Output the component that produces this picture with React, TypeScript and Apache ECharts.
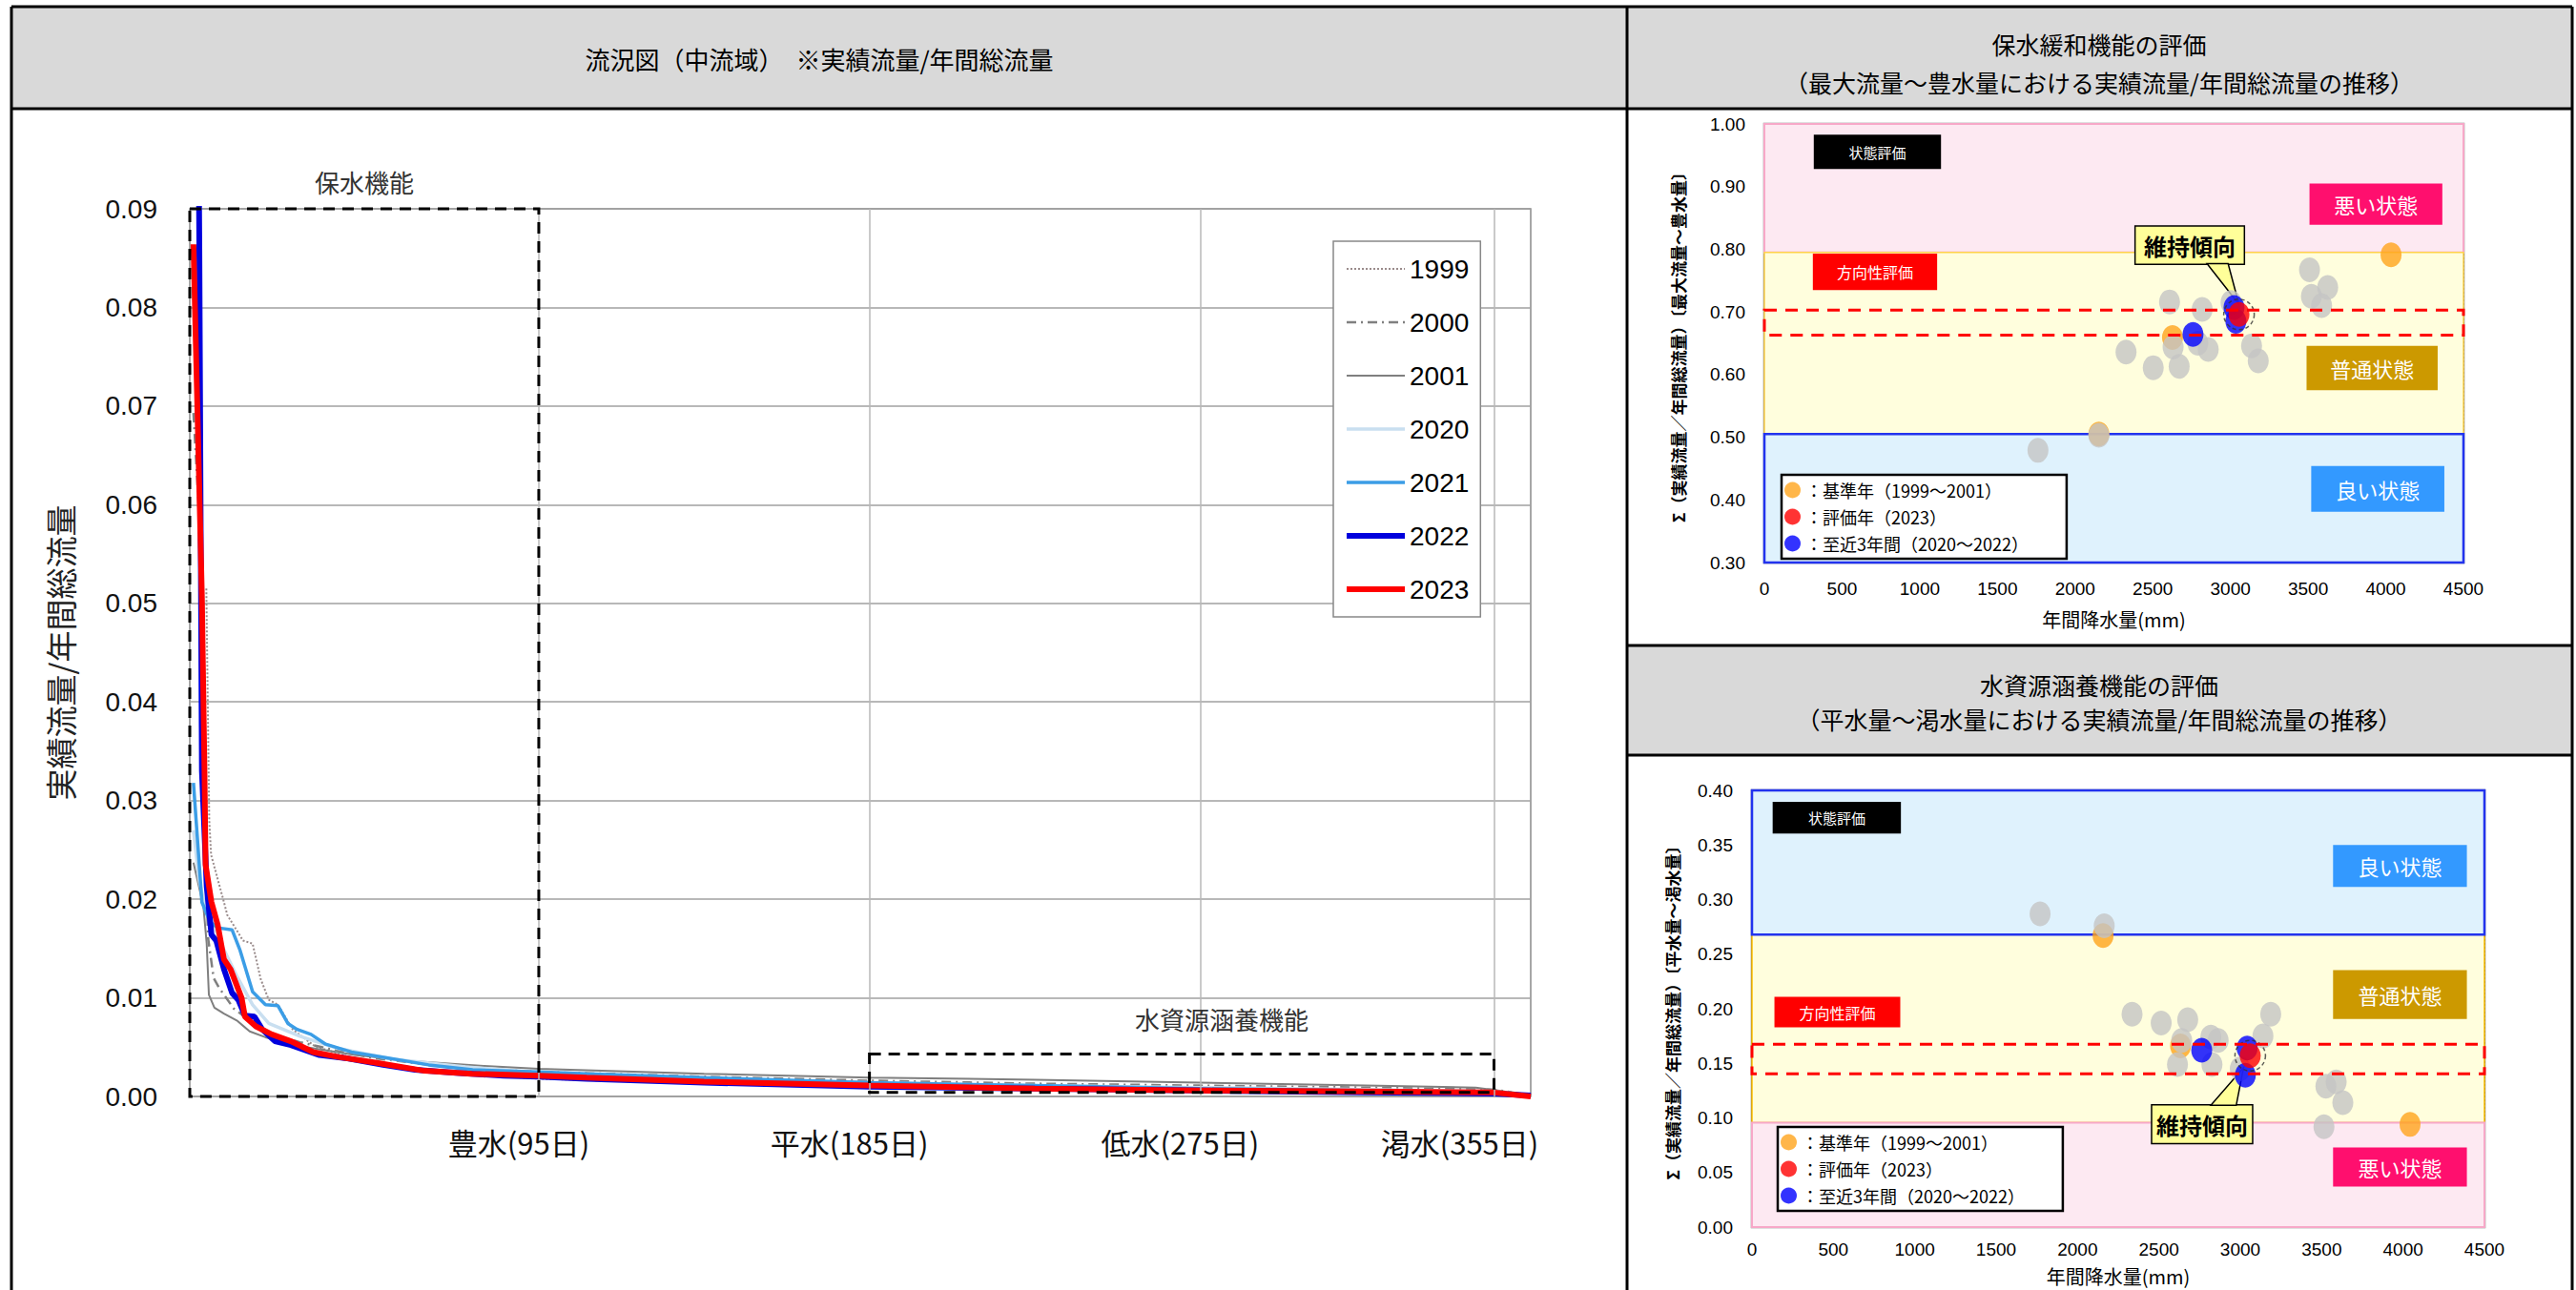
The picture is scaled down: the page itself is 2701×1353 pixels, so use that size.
import React, { useEffect, useRef } from "react";
import * as echarts from "echarts";

// ---------------- Data: flow duration curves (day, actual flow / annual total flow) ----------------
const YEARS = ["1999", "2000", "2001", "2020", "2021", "2022", "2023"];

const FLOW_1999 = [
  [4.5, 0.0515], [5.3, 0.028], [5.8, 0.0245], [9.3, 0.0197], [10.2, 0.0184], [14.5, 0.0158], [17.1, 0.0155],
  [19.3, 0.0119], [21.5, 0.0098], [24, 0.0093], [28, 0.0068], [34, 0.0051], [45, 0.0038], [60, 0.0029],
  [78, 0.0022], [95, 0.0018], [140, 0.0013], [185, 0.001], [230, 0.0008], [275, 0.0006], [320, 0.0005],
  [355, 0.0004], [365, 0.0001],
];
const FLOW_2000 = [
  [1, 0.0693], [2.4, 0.06], [3.5, 0.04], [4.2, 0.025], [5, 0.016], [6.5, 0.012], [8, 0.011], [12, 0.0089],
  [16.3, 0.0077], [21.5, 0.0064], [30, 0.0055], [36, 0.005], [50, 0.0039], [70, 0.003], [95, 0.0025],
  [140, 0.002], [185, 0.0016], [230, 0.0013], [275, 0.0011], [320, 0.0009], [355, 0.0007], [365, 0.0001],
];
const FLOW_2001 = [
  [1, 0.0237], [3.7, 0.0193], [4.6, 0.0155], [5.2, 0.0103], [6.7, 0.009], [9.3, 0.0084], [12.8, 0.0077],
  [16.3, 0.0066], [20.6, 0.006], [30, 0.0051], [45, 0.0042], [60, 0.0036], [80, 0.0031], [95, 0.0028],
  [140, 0.0023], [185, 0.0019], [230, 0.0017], [275, 0.0014], [320, 0.0011], [350, 0.0009], [356, 0.0006],
  [365, 0.0001],
];
const FLOW_2020 = [
  [1, 0.027], [2.5, 0.022], [4, 0.0195], [6, 0.018], [8.5, 0.0155], [12.8, 0.0122], [17.1, 0.0093],
  [21.5, 0.0074], [30, 0.0061], [40, 0.0049], [55, 0.0038], [75, 0.003], [95, 0.0024], [140, 0.0018],
  [185, 0.0014], [230, 0.0011], [275, 0.0009], [320, 0.0007], [355, 0.0005], [365, 0.0001],
];
const FLOW_2021 = [
  [1, 0.0318], [3.3, 0.0197], [5.5, 0.0177], [7.6, 0.0171], [11.5, 0.0169], [13.7, 0.0148], [17.1, 0.0106],
  [20.6, 0.0093], [24, 0.0092], [26.7, 0.0074], [29.2, 0.0068], [33, 0.0063], [37, 0.0053], [44, 0.0045],
  [54, 0.0039], [65, 0.0032], [77, 0.0027], [95, 0.0025], [108, 0.0023], [140, 0.0019], [185, 0.0014],
  [230, 0.0011], [275, 0.0008], [320, 0.0006], [355, 0.0004], [365, 0.0001],
];
const FLOW_2022 = [
  [1, 0.18], [2, 0.12], [2.6, 0.086], [2.9, 0.0625], [3.3, 0.033], [4.6, 0.0213], [5.9, 0.0164],
  [7.2, 0.0158], [9.3, 0.0129], [11.5, 0.0105], [13.2, 0.0098], [15, 0.0082], [17.6, 0.0081],
  [19.7, 0.0068], [23.2, 0.0056], [27.5, 0.0052], [35.3, 0.0042], [42.2, 0.0039], [52.6, 0.0032],
  [61.3, 0.0027], [72.5, 0.0024], [85.5, 0.0021], [95, 0.002], [108, 0.0018], [140, 0.0014],
  [185, 0.001], [230, 0.0008], [275, 0.0006], [320, 0.0004], [355, 0.0003], [365, 0.0001],
];
const FLOW_2023 = [
  [1, 0.0864], [3.3, 0.0506], [4, 0.0329], [4.3, 0.0235], [5.9, 0.0197], [7.6, 0.0174], [9.3, 0.0139],
  [11.1, 0.0129], [14.1, 0.01], [15, 0.0081], [18, 0.0071], [22.3, 0.0063], [27.5, 0.0056], [33.6, 0.0045],
  [40.5, 0.004], [50.9, 0.0034], [63.9, 0.0026], [76.8, 0.0023], [95, 0.0021], [108, 0.0019], [140, 0.0015],
  [185, 0.0011], [230, 0.0008], [275, 0.0006], [320, 0.0005], [355, 0.0004], [365, 0.0],
];
const FLOWS = [FLOW_1999, FLOW_2000, FLOW_2001, FLOW_2020, FLOW_2021, FLOW_2022, FLOW_2023];

const X_TICK_DAYS = [95, 185, 275, 355];
const X_TICK_LABELS = ["豊水(95日)", "平水(185日)", "低水(275日)", "渇水(355日)"];

// ---------------- Data: evaluation scatter (annual rainfall mm, Σ ratio) ----------------
const LEGEND_NAMES = ["：基準年（1999～2001）", "：評価年（2023）", "：至近3年間（2020～2022）"];

const HIGH_GRAY = [
  [3509, 0.767], [3626, 0.739], [3521, 0.725], [3587, 0.71], [2608, 0.716], [2818, 0.704], [3004, 0.715],
  [2631, 0.644], [2857, 0.64], [2790, 0.65], [2328, 0.636], [2503, 0.611], [2670, 0.613], [3136, 0.646],
  [3179, 0.622], [1761, 0.479], [2153, 0.503],
];
const HIGH_BASE = [[4034, 0.791], [2627, 0.659], [2153, 0.505]];
const HIGH_EVAL = [[3055, 0.696]];
const HIGH_RECENT = [[3023, 0.707], [2759, 0.664], [3035, 0.685]];

const LOW_GRAY = [
  [1770, 0.287], [2164, 0.276], [2335, 0.195], [2514, 0.187], [2677, 0.19], [2640, 0.171], [2819, 0.174],
  [2864, 0.171], [2614, 0.149], [2826, 0.149], [3139, 0.175], [3187, 0.195], [3526, 0.129], [3589, 0.133],
  [3630, 0.114], [3514, 0.092], [3000, 0.145],
];
const LOW_BASE = [[2157, 0.267], [4043, 0.094], [2633, 0.166]];
const LOW_EVAL = [[3061, 0.157]];
const LOW_RECENT = [[2763, 0.162], [3042, 0.164], [3031, 0.139]];

// ---------------- Styles ----------------
const JP = "'Noto Sans CJK JP', sans-serif";
const NUM = "'Liberation Sans', Arial, sans-serif";
const NARROW = "'Liberation Sans Narrow', 'Liberation Sans', sans-serif";

const YEAR_LINE_STYLES: any[] = [
  { color: "#9a8c8c", width: 2, type: "dotted" },
  { color: "#808080", width: 2.5, type: [10, 5, 2, 5] },
  { color: "#7f7f7f", width: 2, type: "solid" },
  { color: "#c9dff0", width: 3.5, type: "solid" },
  { color: "#3b9de6", width: 3.5, type: "solid" },
  { color: "#0000dd", width: 6, type: "solid" },
  { color: "#ff0000", width: 6, type: "solid" },
];

const TRANSPARENT = "rgba(0,0,0,0)";

function boxArea(name: string, a: number[], b: number[], fill: string, fontSize: number, textColor = "#fff", extra: any = {}) {
  return [
    {
      name,
      coord: a,
      itemStyle: { color: fill, borderWidth: 0, opacity: 1, ...(extra.itemStyle || {}) },
      label: {
        show: true,
        position: "inside",
        color: textColor,
        fontSize,
        fontFamily: JP,
        fontWeight: extra.fontWeight || "normal",
      },
    },
    { coord: b },
  ];
}

function band(a: number[], b: number[], fill: string, border: string, bw: number) {
  return [
    { name: "", coord: a, itemStyle: { color: fill, borderColor: border, borderWidth: bw, opacity: 1 }, label: { show: false } },
    { coord: b },
  ];
}

// dashed rectangular frame drawn through the axes' own scales
function frameSeries(g: number, frames: any[], color: string, width: number, dash: number[], z: number, name: string) {
  return {
    type: "custom",
    name,
    xAxisIndex: g,
    yAxisIndex: g,
    z,
    silent: true,
    clip: false,
    data: frames.map((f) => [f.a[0], f.a[1], f.b[0], f.b[1]]),
    renderItem: (params: any, api: any) => {
      const f = frames[params.dataIndex];
      const p1 = api.coord([api.value(0), api.value(1)]);
      const p2 = api.coord([api.value(2), api.value(3)]);
      const x = Math.min(p1[0], p2[0]);
      const y = Math.min(p1[1], p2[1]);
      const w = Math.abs(p2[0] - p1[0]);
      const h = Math.abs(p2[1] - p1[1]);
      const children: any[] = [
        {
          type: "rect",
          shape: { x, y, width: w, height: h },
          style: { fill: "none", stroke: color, lineWidth: width, lineDash: dash },
        },
      ];
      if (f.label) {
        children.push({
          type: "text",
          x: x + w / 2 + (f.dx || 0),
          y: y - (f.gap || 0),
          style: {
            text: f.label,
            fill: "#333",
            font: `26px ${JP}`,
            textAlign: "center",
            textVerticalAlign: "bottom",
          },
        });
      }
      return { type: "group", children };
    },
  };
}

function evalPanelSeries(g: number, cfg: any) {
  const ax = { xAxisIndex: g, yAxisIndex: g };
  const dot = [22, 26];
  return [
    {
      type: "line",
      name: "_bands" + g,
      ...ax,
      data: [],
      z: -1,
      silent: true,
      markArea: { silent: true, data: cfg.bands },
    },
    {
      type: "line",
      name: "_labels" + g,
      ...ax,
      data: [],
      z: 3,
      silent: true,
      markArea: { silent: true, data: cfg.labels },
    },
    {
      type: "custom",
      name: "_pointer" + g,
      ...ax,
      z: 4,
      silent: true,
      data: [cfg.pointer],
      renderItem: (params: any, api: any) => {
        const p1 = api.coord([api.value(0), api.value(1)]);
        const p2 = api.coord([api.value(2), api.value(3)]);
        const p3 = api.coord([api.value(4), api.value(5)]);
        return {
          type: "polygon",
          shape: { points: [p1, p2, p3] },
          style: { fill: "#FFFF99", stroke: "#000", lineWidth: 1.5 },
        };
      },
    },
    {
      type: "line",
      name: "_callout" + g,
      ...ax,
      data: [],
      z: 5,
      silent: true,
      markArea: {
        silent: true,
        data: [boxArea("維持傾向", cfg.callout[0], cfg.callout[1], "#FFFF99", 24, "#000", {
          fontWeight: "bold",
          itemStyle: { borderColor: "#000", borderWidth: 1.5 },
        })],
      },
    },
    {
      type: "scatter",
      name: LEGEND_NAMES[0],
      ...ax,
      data: cfg.base,
      symbol: "circle",
      symbolSize: dot,
      itemStyle: { color: "#FFA41B" },
      z: 6,
    },
    {
      type: "scatter",
      name: "過去年",
      ...ax,
      data: cfg.gray,
      symbol: "circle",
      symbolSize: dot,
      itemStyle: { color: "#C4C4C4" },
      z: 6,
    },
    {
      type: "scatter",
      name: LEGEND_NAMES[2],
      ...ax,
      data: cfg.recent,
      symbol: "circle",
      symbolSize: dot,
      itemStyle: { color: "#0000FF" },
      z: 6,
    },
    {
      type: "scatter",
      name: LEGEND_NAMES[1],
      ...ax,
      data: cfg.evalYear,
      symbol: "circle",
      symbolSize: dot,
      itemStyle: { color: "#FF0000" },
      z: 6,
    },
    {
      type: "scatter",
      name: "_ring" + g,
      ...ax,
      data: cfg.evalYear,
      symbol: "circle",
      symbolSize: 32,
      silent: true,
      itemStyle: { color: TRANSPARENT, borderColor: "#333", borderWidth: 1.5, borderType: [4, 3] },
      z: 7,
    },
    frameSeries(g, [{ a: cfg.trend[0], b: cfg.trend[1] }], "#FF0000", 3, [13, 9], 8, "_trend" + g),
  ];
}

function buildOption() {
  const leftSeries: any[] = YEARS.map((y, i) => ({
    type: "line",
    name: y,
    xAxisIndex: 0,
    yAxisIndex: 0,
    data: FLOWS[i],
    symbol: "none",
    lineStyle: YEAR_LINE_STYLES[i],
    itemStyle: { color: YEAR_LINE_STYLES[i].color },
    z: 2,
  }));

  const vgrid = {
    type: "line",
    name: "_vgrid",
    xAxisIndex: 0,
    yAxisIndex: 0,
    data: [],
    z: 1,
    silent: true,
    markLine: {
      silent: true,
      symbol: ["none", "none"],
      label: { show: false },
      lineStyle: { color: "#b8b8b8", width: 1.5, type: "solid" },
      data: X_TICK_DAYS.map((d) => ({ xAxis: d })),
    },
  };

  const frames = frameSeries(
    0,
    [
      { a: [0, 0.09], b: [95, 0], label: "保水機能", gap: 16 },
      { a: [185, 0.0043], b: [355, 0.0004], label: "水資源涵養機能", gap: 24, dx: 42 },
    ],
    "#000",
    3,
    [12, 8],
    10,
    "_frames"
  );

  const highCfg = {
    bands: [
      band([0, 1.0], [4500, 0.795], "#FDE9F2", "#F7A8C8", 2),
      band([0, 0.795], [4500, 0.505], "#FFFEDD", "#FFD24D", 1.5),
      band([0, 0.505], [4500, 0.3], "#DFF2FD", "#2233EE", 2.5),
    ],
    labels: [
      boxArea("状態評価", [318, 0.983], [1137, 0.928], "#000000", 15),
      boxArea("方向性評価", [312, 0.793], [1112, 0.735], "#FF0000", 16),
      boxArea("悪い状態", [3509, 0.905], [4364, 0.839], "#FF0F6E", 22),
      boxArea("普通状態", [3490, 0.646], [4334, 0.575], "#CC9900", 22),
      boxArea("良い状態", [3520, 0.454], [4377, 0.381], "#3399FF", 22),
    ],
    pointer: [2849, 0.777, 2985, 0.777, 3055, 0.712],
    callout: [[2386, 0.837], [3090, 0.776]],
    trend: [[0, 0.703], [4500, 0.663]],
    gray: HIGH_GRAY,
    base: HIGH_BASE,
    evalYear: HIGH_EVAL,
    recent: HIGH_RECENT,
  };

  const lowCfg = {
    bands: [
      band([0, 0.268], [4500, 0.0957], "#FFFEDD", "#FFC000", 1.5),
      band([0, 0.0957], [4500, 0.0], "#FDE9F2", "#F7A8C8", 2),
      band([0, 0.4], [4500, 0.268], "#DFF2FD", "#2233EE", 2.5),
    ],
    labels: [
      boxArea("状態評価", [127, 0.3895], [915, 0.3605], "#000000", 15),
      boxArea("方向性評価", [138, 0.2109], [911, 0.1829], "#FF0000", 16),
      boxArea("良い状態", [3570, 0.35], [4392, 0.3116], "#3399FF", 22),
      boxArea("普通状態", [3570, 0.2353], [4392, 0.1907], "#CC9900", 22),
      boxArea("悪い状態", [3570, 0.0729], [4392, 0.0372], "#FF0F6E", 22),
    ],
    pointer: [2819, 0.1115, 2975, 0.1115, 3020, 0.146],
    callout: [[2455, 0.112], [3076, 0.0764]],
    trend: [[0, 0.1674], [4500, 0.1403]],
    gray: LOW_GRAY,
    base: LOW_BASE,
    evalYear: LOW_EVAL,
    recent: LOW_RECENT,
  };

  const rightX = (g: number, gap: number, margin: number) => ({
    gridIndex: g,
    type: "value",
    min: 0,
    max: 4500,
    interval: 500,
    name: "年間降水量(mm)",
    nameLocation: "middle",
    nameGap: gap,
    nameTextStyle: { fontFamily: JP, fontSize: 20, color: "#000" },
    axisLine: { show: true, lineStyle: { color: "#555", width: 1.5 } },
    axisTick: { show: false },
    axisLabel: { fontFamily: NARROW, fontSize: 19, color: "#000", margin, formatter: (v: number) => String(v) },
    splitLine: { show: true, lineStyle: { color: "#444", width: 1, type: [2, 2] } },
  });
  const rightY = (g: number, min: number, max: number, interval: number, name: string, gap: number) => ({
    gridIndex: g,
    type: "value",
    min,
    max,
    interval,
    name,
    nameLocation: "middle",
    nameGap: gap,
    nameTextStyle: { fontFamily: JP, fontSize: 17, fontWeight: "bold", color: "#000" },
    axisLine: { show: true, lineStyle: { color: "#555", width: 1.5 } },
    axisTick: { show: false },
    axisLabel: {
      fontFamily: NARROW,
      fontSize: 19,
      color: "#000",
      margin: 20,
      formatter: (v: number) => v.toFixed(2),
    },
    splitLine: { show: true, lineStyle: { color: "#444", width: 1, type: [2, 2] } },
  });

  const rightLegend = (left: number, top: number) => ({
    data: LEGEND_NAMES,
    orient: "vertical",
    left,
    top,
    selectedMode: false,
    icon: "circle",
    itemWidth: 17,
    itemHeight: 19,
    itemGap: 10,
    padding: [7, 40, 7, 3],
    backgroundColor: "#fff",
    borderColor: "#000",
    borderWidth: 2.5,
    textStyle: { fontFamily: JP, fontSize: 18, lineHeight: 18, color: "#000" },
  });

  const line = (x1: number, y1: number, x2: number, y2: number, w = 3) => ({
    type: "line",
    shape: { x1, y1, x2, y2 },
    style: { stroke: "#000", lineWidth: w },
    z: 100,
  });
  const headerText = (x: number, y: number, text: string, size: number) => ({
    type: "text",
    x,
    y,
    style: {
      text,
      fill: "#000",
      font: `${size}px ${JP}`,
      textAlign: "center",
      textVerticalAlign: "middle",
    },
    z: 101,
  });

  const graphic = [
    { type: "rect", shape: { x: 12, y: 7, width: 1694, height: 107 }, style: { fill: "#D9D9D9" }, z: 99 },
    { type: "rect", shape: { x: 1706, y: 7, width: 991, height: 107 }, style: { fill: "#D9D9D9" }, z: 99 },
    { type: "rect", shape: { x: 1706, y: 677, width: 991, height: 115 }, style: { fill: "#D9D9D9" }, z: 99 },
    line(12, 7, 2697, 7),
    line(12, 114, 2697, 114),
    line(12, 7, 12, 1353),
    line(1706, 7, 1706, 1353),
    line(2697, 7, 2697, 1353),
    line(1706, 677, 2697, 677),
    line(1706, 792, 2697, 792),
    headerText(859, 61, "流況図（中流域）　※実績流量/年間総流量", 26),
    headerText(2201, 46, "保水緩和機能の評価", 25),
    headerText(2201, 86, "（最大流量～豊水量における実績流量/年間総流量の推移）", 25),
    headerText(2201, 718, "水資源涵養機能の評価", 25),
    headerText(2201, 754, "（平水量～渇水量における実績流量/年間総流量の推移）", 25),
  ];

  return {
    animation: false,
    backgroundColor: "#fff",
    graphic,
    legend: [
      {
        data: YEARS,
        orient: "vertical",
        left: 1398,
        top: 253,
        selectedMode: false,
        itemWidth: 61,
        itemHeight: 14,
        itemGap: 26,
        itemStyle: { opacity: 0 },
        lineStyle: { width: "inherit", type: "inherit", color: "inherit" },
        padding: [14, 12, 14, 11],
        backgroundColor: "#fff",
        borderColor: "#888",
        borderWidth: 1.5,
        textStyle: { fontFamily: NUM, fontSize: 28, lineHeight: 30, color: "#000" },
      },
      rightLegend(1868, 498),
      rightLegend(1864, 1182),
    ],
    grid: [
      { left: 199, top: 219, width: 1406, height: 931, show: true, borderColor: "#8a8a8a", borderWidth: 1.5, backgroundColor: TRANSPARENT },
      { left: 1850, top: 130, width: 733, height: 460, show: true, borderColor: "#7f7f7f", borderWidth: 2.5, backgroundColor: TRANSPARENT },
      { left: 1837, top: 829, width: 768, height: 458, show: true, borderColor: "#7f7f7f", borderWidth: 2.5, backgroundColor: TRANSPARENT },
    ],
    xAxis: [
      {
        gridIndex: 0,
        type: "value",
        min: 0,
        max: 365,
        axisLine: { show: false },
        axisTick: { show: false },
        splitLine: { show: false },
        axisLabel: {
          customValues: X_TICK_DAYS,
          margin: 32,
          formatter: (v: number) => {
            const i = X_TICK_DAYS.indexOf(Math.round(v));
            if (i < 0) return "";
            return i === X_TICK_DAYS.length - 1 ? `{t|${X_TICK_LABELS[i]}}` : `{s|${X_TICK_LABELS[i]}}`;
          },
          rich: {
            s: { fontFamily: JP, fontSize: 31, color: "#111", padding: [0, 42, 0, 0] },
            t: { fontFamily: JP, fontSize: 31, color: "#111", padding: [0, 72, 0, 0] },
          },
        },
      },
      rightX(1, 49, 18),
      rightX(2, 41, 14),
    ],
    yAxis: [
      {
        gridIndex: 0,
        type: "value",
        min: 0,
        max: 0.09,
        interval: 0.01,
        name: "実績流量/年間総流量",
        nameLocation: "middle",
        nameGap: 120,
        nameTextStyle: { fontFamily: JP, fontSize: 33, color: "#222" },
        axisLine: { show: false },
        axisTick: { show: false },
        axisLabel: {
          fontFamily: NUM,
          fontSize: 28,
          color: "#111",
          margin: 34,
          formatter: (v: number) => v.toFixed(2),
        },
        splitLine: { show: true, lineStyle: { color: "#a0a0a0", width: 1.5 } },
      },
      rightY(1, 0.3, 1.0, 0.1, "Σ（実績流量／年間総流量）〔最大流量～豊水量〕", 82),
      rightY(2, 0, 0.4, 0.05, "Σ（実績流量／年間総流量）〔平水量～渇水量〕", 75),
    ],
    series: [
      vgrid,
      ...leftSeries,
      frames,
      ...evalPanelSeries(1, highCfg),
      ...evalPanelSeries(2, lowCfg),
    ],
  };
}

export default function App() {
  const ref = useRef<HTMLDivElement>(null);
  useEffect(() => {
    if (!ref.current) return;
    const chart = echarts.init(ref.current, null, { renderer: "svg" });
    chart.setOption(buildOption() as any);
    return () => chart.dispose();
  }, []);
  return (
    <div
      ref={ref}
      style={{ position: "fixed", left: 0, top: 0, width: 2701, height: 1353, background: "#fff" }}
    />
  );
}
